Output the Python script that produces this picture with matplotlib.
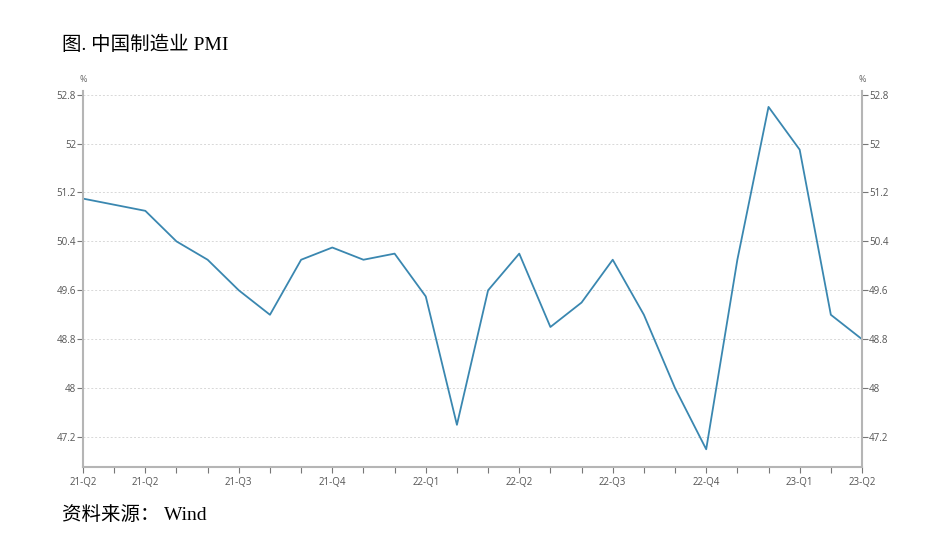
import matplotlib
matplotlib.use("Agg")
import matplotlib.pyplot as plt
from matplotlib.ticker import FixedLocator, NullFormatter

months = ["2021-04", "2021-05", "2021-06", "2021-07", "2021-08", "2021-09", "2021-10",
          "2021-11", "2021-12", "2022-01", "2022-02", "2022-03", "2022-04", "2022-05",
          "2022-06", "2022-07", "2022-08", "2022-09", "2022-10", "2022-11", "2022-12",
          "2023-01", "2023-02", "2023-03", "2023-04", "2023-05"]
pmi = [51.1, 51.0, 50.9, 50.4, 50.1, 49.6, 49.2, 50.1, 50.3, 50.1, 50.2, 49.5, 47.4,
       49.6, 50.2, 49.0, 49.4, 50.1, 49.2, 48.0, 47.0, 50.1, 52.6, 51.9, 49.2, 48.8]
tick_idx = [0, 2, 5, 8, 11, 14, 17, 20, 23, 25]
tick_labels = ["21-Q2", "21-Q2", "21-Q3", "21-Q4", "22-Q1", "22-Q2", "22-Q3", "22-Q4", "23-Q1", "23-Q2"]
yticks = [47.2, 48, 48.8, 49.6, 50.4, 51.2, 52, 52.8]
ytick_labels = ["47.2", "48", "48.8", "49.6", "50.4", "51.2", "52", "52.8"]

W, H = 940, 542
fig = plt.figure(figsize=(W / 100, H / 100), dpi=100)
ax = fig.add_axes([83 / W, 1 - 467 / H, (862 - 83) / W, (467 - 91) / H])

x = list(range(len(months)))
ax.plot(x, pmi, color="#3a87b0", lw=1.3)
ax.set_xlim(0, len(months) - 1)
ax.set_ylim(46.71, 52.86)

ax.set_yticks(yticks)
ax.set_yticklabels(ytick_labels)
ax.set_xticks(tick_idx)
ax.set_xticklabels(tick_labels)
ax.xaxis.set_minor_locator(FixedLocator(x))
ax.xaxis.set_minor_formatter(NullFormatter())

ax.grid(axis="y", color="#d8d8d8", ls=(0, (2, 2)), lw=0.7)
ax.set_axisbelow(True)

for s in ["left", "right", "bottom"]:
    ax.spines[s].set_color("#b5b5b5")
    ax.spines[s].set_linewidth(1.5)
ax.spines["top"].set_visible(False)

ax.tick_params(axis="y", which="both", length=4, width=0.8, color="#777777",
               labelsize=7, labelcolor="#555555", pad=1, right=True, labelright=True)
ax.tick_params(axis="x", which="both", length=4, width=0.8, color="#777777",
               labelsize=7, labelcolor="#555555", pad=3)

fam_lbl = ["Open Sans", "DejaVu Sans"]
for lbl in ax.get_xticklabels() + ax.get_yticklabels():
    lbl.set_family(fam_lbl)

fig.text(83 / W, 1 - 80 / H, "%", fontsize=6.5, color="#666666", ha="center", va="center", family=fam_lbl)
fig.text(862 / W, 1 - 80 / H, "%", fontsize=6.5, color="#666666", ha="center", va="center", family=fam_lbl)

fam_t = ["Liberation Serif", "Noto Sans CJK SC"]
fig.text(62 / W, 1 - 45 / H, "图. 中国制造业 PMI", fontsize=14, color="black",
         ha="left", va="center", family=fam_t)
fig.text(62 / W, 1 - 515 / H, "资料来源： Wind", fontsize=14, color="black",
         ha="left", va="center", family=fam_t)

fig.savefig("out.png", dpi=100)
